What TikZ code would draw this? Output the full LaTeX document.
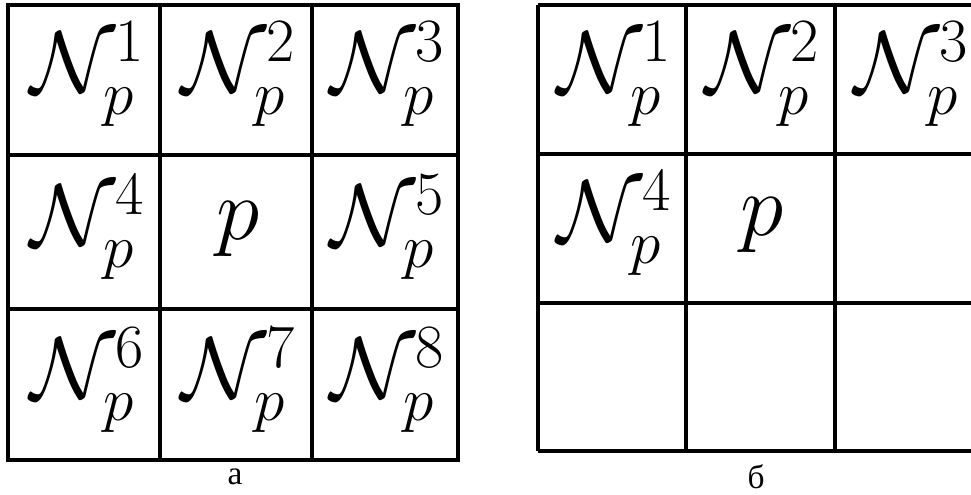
\RequirePackage{fix-cm}
\documentclass[tikz,border=0pt]{standalone}
\usepackage{fontspec}
\setmainfont{Liberation Serif}

\begin{document}
\begin{tikzpicture}[x=0.02cm, y=-0.02cm,
    every node/.style={font=\fontsize{50}{54}\selectfont},
    gridline/.style={line width=1.8pt, black},
    caption/.style={font=\fontsize{19}{21}\selectfont}]
    \useasboundingbox (0,0) rectangle (971,494);

    % Окрестность а
    \draw[gridline] (8,5) rectangle (458,460);
    \draw[gridline] (160,5) -- (160,460);
    \draw[gridline] (312,5) -- (312,460);
    \draw[gridline] (8,155) -- (458,155);
    \draw[gridline] (8,309) -- (458,309);

    \node (a1) at (88,74) {$\mathcal{N}_p^1$};
    \node (a2) at (239,74) {$\mathcal{N}_p^2$};
    \node (a3) at (388,74) {$\mathcal{N}_p^3$};
    \node (a4) at (88,227) {$\mathcal{N}_p^4$};
    \node (ap) at (238,229) {$p$};
    \node (a5) at (388,227) {$\mathcal{N}_p^5$};
    \node (a6) at (88,380) {$\mathcal{N}_p^6$};
    \node (a7) at (239,380) {$\mathcal{N}_p^7$};
    \node (a8) at (388,380) {$\mathcal{N}_p^8$};

    % Окрестность б
    \draw[gridline] (538,5) -- (984,5);
    \draw[gridline] (538,154) -- (984,154);
    \draw[gridline] (538,303) -- (984,303);
    \draw[gridline] (538,451) -- (984,451);
    \draw[gridline] (538,5) -- (538,451);
    \draw[gridline] (686,5) -- (686,451);
    \draw[gridline] (835,5) -- (835,451);

    \node (b1) at (615,74) {$\mathcal{N}_p^1$};
    \node (b2) at (763,74) {$\mathcal{N}_p^2$};
    \node (b3) at (912,74) {$\mathcal{N}_p^3$};
    \node (b4) at (615,223) {$\mathcal{N}_p^4$};
    \node (bp) at (762,225) {$p$};

    \node[caption] (la) at (235,477) {а};
    \node[caption] (lb) at (756,477) {б};
\end{tikzpicture}
\end{document}
